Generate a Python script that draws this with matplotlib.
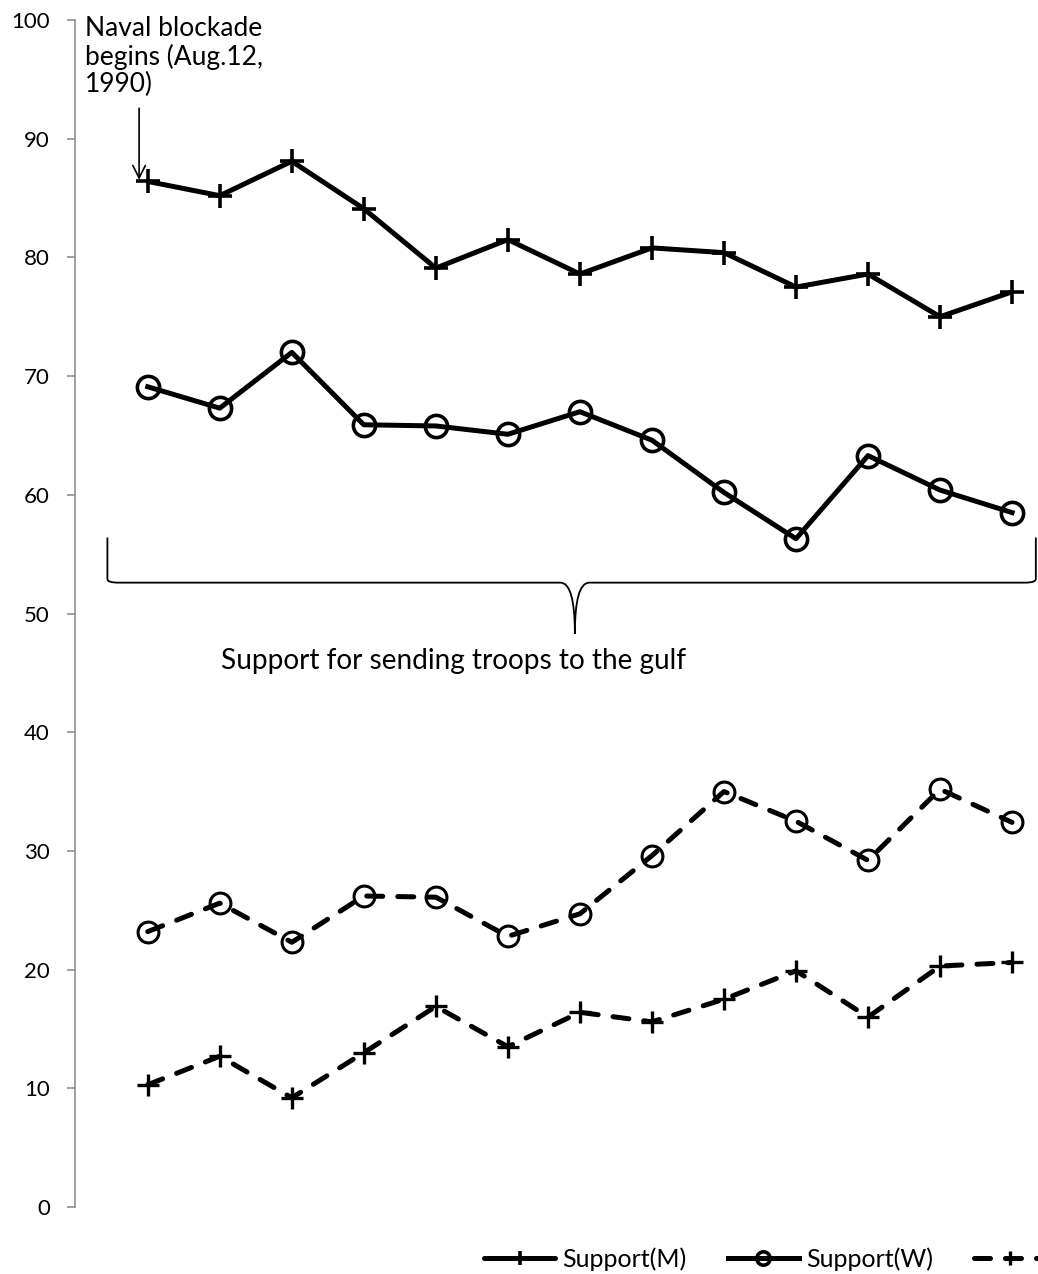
import matplotlib
matplotlib.use("Agg")
import matplotlib.pyplot as plt
from matplotlib.path import Path
import matplotlib.patches as patches
import numpy as np

plt.rcParams['font.family'] = ['Lato', 'DejaVu Sans']

# survey waves (13 polls after the naval blockade)
waves = np.arange(1, 14)

support_m = [86.4, 85.2, 88.1, 84.1, 79.1, 81.5, 78.6, 80.8, 80.4, 77.5, 78.6, 75.0, 77.1]
support_w = [69.1, 67.3, 72.0, 65.9, 65.8, 65.1, 67.0, 64.6, 60.2, 56.3, 63.3, 60.4, 58.5]
oppose_w = [23.2, 25.6, 22.3, 26.2, 26.1, 22.8, 24.7, 29.6, 35.0, 32.5, 29.2, 35.2, 32.4]
oppose_m = [10.3, 12.7, 9.2, 13.0, 16.9, 13.5, 16.4, 15.6, 17.5, 19.9, 16.0, 20.3, 20.6]

series_labels = ["Support(M)", "Support(W)", "Oppose(M)", "Oppose(W)"]
y_ticks = list(range(0, 101, 10))

fig = plt.figure(figsize=(10.38, 12.74), dpi=100)
ax = fig.add_axes([75 / 1038, 67 / 1274, 1 - 75 / 1038, 1187 / 1274])
ax.set_xlim(-0.01, 13.36)
ax.set_ylim(0, 100)

dash = (0, (3.2, 3.0))
h1, = ax.plot(waves, support_m, color="black", lw=3.6, marker="+", ms=17, mew=2.6,
              solid_capstyle="round", solid_joinstyle="round", label=series_labels[0])
h2, = ax.plot(waves, support_w, color="black", lw=3.6, marker="o", ms=16, mew=2.6,
              mfc="none", solid_joinstyle="round", label=series_labels[1])
h3, = ax.plot(waves, oppose_m, color="black", lw=3.6, ls=dash, marker="+", ms=16, mew=2.4,
              dash_capstyle="round", label=series_labels[2])
h4, = ax.plot(waves, oppose_w, color="black", lw=3.6, ls=dash, marker="o", ms=15, mew=2.2,
              mfc="none", dash_capstyle="round", label=series_labels[3])

# axes styling
for side in ["top", "right", "bottom"]:
    ax.spines[side].set_visible(False)
ax.spines["left"].set_color("#868686")
ax.spines["left"].set_linewidth(1.1)
ax.set_xticks([])
ax.set_yticks(y_ticks)
ax.tick_params(axis="y", direction="out", length=6, width=1.1, color="#868686",
               labelsize=16, pad=12)

# annotation for blockade
ax.text(0.125, 96.9, "Naval blockade\nbegins (Aug.12,\n1990)", fontsize=19,
        va="center", ha="left", linespacing=1.12, clip_on=False)
ax.annotate("", xy=(0.88, 86.3), xytext=(0.88, 92.8),
            arrowprops=dict(arrowstyle="->,head_length=0.9,head_width=0.45", lw=1.2, color="black"))

# curly brace under the support series
xl, xc, xr = 0.44, 6.93, 13.33
yb, yt, ytip = 52.6, 56.4, 48.3
verts = [(xl, yt), (xl, yb + 0.3), (xl, yb), (xl + 0.15, yb),
         (xc - 0.2, yb), (xc, yb), (xc, ytip),
         (xc, yb), (xc + 0.2, yb),
         (xr - 0.15, yb), (xr, yb), (xr, yb + 0.3), (xr, yt)]
codes = [Path.MOVETO, Path.LINETO, Path.CURVE3, Path.CURVE3,
         Path.LINETO, Path.CURVE3, Path.CURVE3,
         Path.CURVE3, Path.CURVE3,
         Path.LINETO, Path.CURVE3, Path.CURVE3, Path.LINETO]
ax.add_patch(patches.PathPatch(Path(verts, codes), fill=False, lw=1.3, color="black",
                               clip_on=False))
ax.text(5.24, 46.0, "Support for sending troops to the gulf", fontsize=20.2,
        ha="center", va="center")

# legend, runs off the right edge like the original (third label not visible there)
fig.legend(handles=[h1, h2, h3], labels=series_labels[:2] + [""], loc="center left",
           bbox_to_anchor=(484 / 1038, 15 / 1274), ncol=3, frameon=False,
           fontsize=18, handlelength=2.85, handletextpad=0.28, columnspacing=1.65,
           borderaxespad=0, borderpad=0, markerscale=0.6)

fig.savefig("out.png", dpi=100)
